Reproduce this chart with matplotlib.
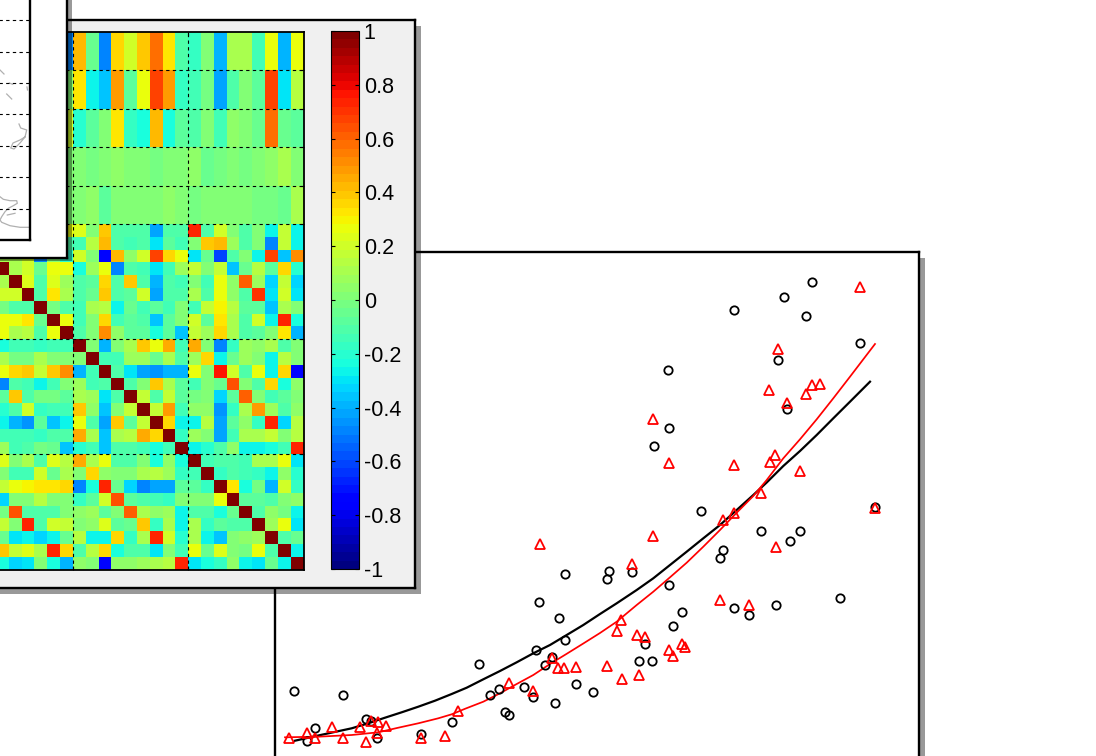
import numpy as np
import matplotlib
matplotlib.use("Agg")
import matplotlib.pyplot as plt
from matplotlib.patches import Rectangle
from matplotlib.cm import ScalarMappable
from matplotlib.colors import Normalize

plt.rcParams['font.family'] = ['Liberation Sans', 'DejaVu Sans']

W, H = 1096, 756

# ---- correlation matrix: visible 24 columns ----
grouped_rows = [
    [0, 0, 0, 0, 0, -.47, .42, -.05, -.48, .36, .2, .38, .58, .34, -.1, -.17, .02, -.38, .12, .1, -.13, .27, -.38, .27],
    [0, 0, 0, 0, 0, .0, .33, -.27, -.36, .47, -.09, .27, .68, .47, -.17, -.14, -.02, -.42, -.12, .03, -.09, .68, -.3, .14],
    [0, 0, 0, 0, 0, .2, -.2, -.08, .02, .33, -.18, -.22, .42, -.25, -.08, -.12, 0, -.13, .06, .02, -.06, .58, -.04, -.09],
    [0, 0, 0, 0, 0, .03, .02, -.01, .01, .04, .02, .02, -.01, .0, .02, .05, -.04, -.01, .01, -.01, .02, .04, .11, .01],
    [0, 0, 0, 0, 0, .0, .03, .05, -.07, .02, .02, .02, .02, .05, .03, -.03, .01, .01, .01, .01, -.01, -.03, -.04, .1],
]
single_rows = [
    [0, 0, 0, 0, 0, .28, .22, 0, .38, -.12, -.11, -.1, -.42, -.12, -.1, .72, -.12, .2, .03, -.12, .02, -.26, .17, -.27],
    [0, 0, 0, 0, 0, -.1, -.13, .13, .42, -.1, -.14, -.11, -.3, -.09, -.13, .01, .38, .42, .09, -.1, 0, -.47, .18, -.26],
    [.1, .1, .2, -.5, 0, -.2, .2, 0, -.72, .42, .04, .19, .67, .36, .28, -.29, -.05, -.62, -.1, .01, -.26, .68, -.35, .5],
    [1, .1, .2, -.06, .27, .28, -.24, .09, .27, -.5, -.1, -.14, -.29, -.13, .07, .16, .02, .16, -.36, -.04, .13, -.08, .35, -.2],
    [.1, 1, .22, -.11, .22, .08, -.1, -.08, .35, -.1, .38, -.11, -.4, -.12, -.13, .02, -.13, .27, .04, .62, .08, -.32, .18, -.33],
    [.2, .2, 1, -.12, .33, .1, -.11, -.05, .4, -.12, -.09, .2, -.43, -.12, -.11, .12, -.12, .28, .04, -.1, .7, -.3, .2, -.29],
    [-.02, -.11, -.12, 1, -.02, -.12, -.14, .1, .15, -.27, -.06, -.14, -.09, -.15, .02, -.13, .18, .3, .14, -.09, -.08, -.36, .1, .03],
    [.28, .25, .33, -.05, 1, .25, -.13, .03, .37, -.14, -.08, -.1, -.36, -.08, 0, .2, -.08, .32, .12, -.11, .2, -.28, .73, -.24],
    [.28, .1, .13, -.12, .25, 1, -.12, .02, .52, .04, -.08, -.08, -.24, -.08, -.37, .16, .08, .37, .1, -.1, -.08, .02, .33, -.4],
    [-.25, -.15, -.15, -.18, -.15, -.13, 1, .02, -.38, .03, .1, .38, .27, .45, -.15, .45, .02, -.5, -.17, .08, .06, .12, -.12, .03],
    [.1, -.02, -.02, .1, .01, .03, .02, 1, -.14, -.14, .07, .08, -.05, .1, -.11, .09, .35, -.27, -.05, .07, .03, -.28, .14, .01],
    [.27, .36, .4, .16, .4, .53, -.4, -.14, 1, -.11, -.3, -.42, -.45, -.4, -.38, .25, .02, .75, .2, -.11, .25, -.27, .35, -.72],
    [-.47, -.1, -.13, -.27, -.13, .01, .08, -.14, -.11, 1, -.11, .03, .4, .12, -.08, -.14, .02, -.06, .63, .02, -.12, .35, -.22, .06],
    [-.08, .4, -.11, -.01, -.01, -.08, .1, .07, -.3, -.1, 1, .18, -.11, .17, -.09, -.01, .02, -.32, -.09, .62, .03, -.14, -.09, .03],
    [-.2, -.1, .2, -.17, -.14, -.13, .38, .05, -.36, .03, .18, 1, .17, .47, -.14, .05, .04, -.44, -.17, .12, .47, .07, -.11, .05],
    [-.27, -.38, -.45, -.08, -.36, -.26, .25, -.1, -.42, .38, -.09, .18, 1, .37, -.27, -.26, .13, -.43, -.08, .06, -.16, .73, -.32, .14],
    [-.15, -.15, -.15, -.18, -.11, -.1, .45, .1, -.36, .1, .15, .45, .37, 1, -.16, .07, .03, -.42, -.13, .1, .12, .18, .03, .15],
    [.09, -.13, -.11, -.01, -.05, -.37, -.2, -.13, -.36, -.1, -.1, -.13, -.25, -.13, 1, -.26, -.2, -.1, .05, -.26, -.27, -.25, -.14, .72],
    [.22, .02, .12, -.11, .22, .15, .45, .1, .25, -.12, -.1, .03, -.22, .06, -.25, 1, -.15, -.1, -.1, -.13, .1, .1, .28, -.3],
    [.02, -.14, -.13, .2, -.06, .1, .03, .37, .05, .03, 0, .12, .15, .08, -.17, -.15, 1, -.17, -.1, -.15, -.17, -.27, .05, -.2],
    [.17, .28, .3, .33, .33, .36, -.5, -.25, .72, -.06, -.33, -.48, -.43, -.42, -.08, -.09, -.16, 1, .32, -.25, -.02, -.38, .2, -.17],
    [-.32, .03, .03, .14, .03, .03, -.18, -.08, .2, .64, -.08, -.12, -.13, -.16, .03, .02, .03, .28, 1, -.09, -.08, -.1, 0, .04],
    [-.02, .63, -.1, -.1, -.11, 0, .06, .07, -.09, .02, .62, .12, .04, .09, -.26, -.1, -.12, -.25, -.05, 1, -.11, .05, -.02, -.27],
    [.17, .02, .72, -.1, .2, .18, .03, .06, .23, -.09, -.05, .4, -.18, .12, -.26, .1, -.18, -.09, -.1, -.11, 1, .08, .27, -.3],
    [-.05, -.3, -.28, -.33, -.26, -.05, .13, -.26, -.26, .35, -.16, .1, .72, .2, -.19, .12, -.28, -.37, .02, .06, .07, 1, -.12, -.06],
    [.4, .17, .22, .1, .72, .35, -.1, .13, .37, -.22, -.1, -.11, -.3, 0, -.14, .27, -.06, .23, .03, -.02, .25, -.12, 1, -.26],
    [-.24, -.32, -.3, .03, -.25, -.4, .06, .01, -.72, .05, .04, .08, .11, .14, .72, -.3, -.23, -.17, .05, -.27, -.3, -.05, -.28, 1],
]
colorbar_ticks = [-1, -.8, -.6, -.4, -.2, 0, .2, .4, .6, .8, 1]
colorbar_labels = ['-1', '-0.8', '-0.6', '-0.4', '-0.2', '0', '0.2', '0.4', '0.6', '0.8', '1']

# ---- scatter: read in picture pixels ----
circle_x = [294, 343, 478.7, 564.7, 539.3, 559.3, 564.7, 536, 551.7, 545, 575.7, 592.7, 524.3, 499.3, 490, 533.3,
            554.7, 505.3, 509.3, 451.7, 366, 371, 315, 306.7, 377.3, 421.3, 812, 783.7, 733.7, 805.7, 859.7, 778.3,
            667.7, 787, 668.7, 653.7, 701.3, 874.7, 761, 800, 790, 723, 719.7, 609, 606.7, 631.7, 668.7, 840.3, 776,
            733.7, 749, 681.7, 673, 644.7, 639.3, 652.3]
circle_y = [690.7, 695, 664.3, 574.3, 601.7, 617.7, 640, 650, 656.7, 665.3, 684, 691.7, 687.3, 689.3, 695.3, 696.7,
            703.3, 712, 714.7, 721.7, 718.7, 721, 727.7, 741, 738.3, 734.3, 282, 297.3, 310.3, 315.7, 342.7, 360.3,
            370, 409.3, 427.7, 446, 511.3, 506.7, 531, 531, 540.7, 550.3, 558, 570.7, 578.7, 572, 585, 598.3, 605,
            608, 614.7, 612.3, 626.3, 643.7, 661.3, 661.3]
triangle_x = [859.7, 778.3, 768.7, 812, 820, 805.7, 787, 653.3, 668.7, 733.7, 775.3, 769.7, 800, 761, 723, 734.3, 875,
              652.7, 776, 631.7, 719.7, 749, 621.3, 616.7, 637, 645, 682, 685, 668.7, 673, 606.7, 639.3, 622,
              539.7, 551.7, 558.3, 564, 575.7, 509, 533.3, 458.3, 332, 371, 377.7, 385.7, 360, 307.3, 289, 315, 343.3,
              376.7, 366, 421.3, 445.3]
triangle_y = [286.7, 349.3, 390, 385.3, 384, 394, 403, 419, 463.3, 464.7, 455, 461.7, 470.7, 493.3, 520.3, 513.3, 508.3,
              536.3, 547, 564.3, 600.3, 605, 619.7, 630.7, 635.3, 636.7, 644, 646.7, 650.3, 656, 665.7, 675, 678.7,
              544, 657.7, 668.3, 668.3, 666.7, 683.3, 691, 710.7, 726.7, 721, 722.3, 725.7, 727.3, 733.3, 738.3, 738.3, 738.3,
              732.7, 742.3, 738.3, 735.7]
black_x = [295, 318.3, 351.7, 368.3, 385, 401.7, 418.3, 435, 451.7, 466.7, 483.3, 500, 516.7, 533.3, 550, 566.7, 583.3,
           600, 616.7, 636.7, 653.3, 670, 686.7, 703.3, 720, 736.7, 753.3, 766.7, 783.3, 800, 816.7, 833.3, 850, 870]
black_y = [740.7, 735.5, 728.3, 723.3, 717.7, 712.3, 706.7, 700.7, 694, 687.7, 679.3, 671, 662.3, 653.3, 645, 635, 625,
           614, 603.3, 590, 578.3, 565, 551.7, 538.3, 525, 510, 495, 482.5, 466, 451, 435, 418.3, 401.7, 381.7]
red_x = [285, 318.3, 351.7, 378.3, 398.3, 418.3, 438.3, 451.7, 465, 483.3, 500, 516.7, 533.3, 550, 566.7, 583.3, 600,
         616.7, 636.7, 653.3, 670, 686.7, 703.3, 720, 736.7, 753.3, 766.7, 783.3, 800, 816.7, 833.3, 850, 875]
red_y = [737.3, 736.7, 735, 732.3, 727.7, 723.3, 718.3, 714.3, 708.8, 701.7, 693.3, 684, 675, 664, 653.8, 643.5, 633,
         621.7, 605, 591.7, 577.3, 562.7, 546.7, 530, 512.7, 496, 480, 458.3, 439.3, 419.3, 398.3, 376.7, 344]

# ---- map coast fragments, in the map's own axis units ----
coast_a_x = [0, 3.3, 10, 16.7, 17.3, 13.3, 8.3, 5, 1.7, 0, 1.7, 10, 20, 29.3]
coast_a_y = [196.7, 199.3, 200.7, 200.7, 203.3, 205.7, 208.3, 211.7, 216.7, 220, 222.3, 225.7, 227.3, 227.3]
coast_b_x = [7.3, 15]
coast_b_y = [215, 213.3]
coast_c_x = [19, 20.7, 26.7, 25, 20, 13, 10.7, 14, 20, 25]
coast_c_y = [124, 128, 130, 137, 140, 143, 148, 149, 143, 137]
coast_d_x = [6.7, 11.7]
coast_d_y = [94, 99]
coast_e_x = [9.3, 12.7]
coast_e_y = [83, 84.3]
coast_f_x = [0, 4]
coast_f_y = [70, 74]
coast_g_x = [27, 27.5]
coast_g_y = [87, 90]
map_lat_lines = [20, 51.7, 83.3, 114.3, 146, 177, 209]

fig = plt.figure(figsize=(W / 100, H / 100), dpi=100, facecolor='white')


def pix_rect(x0, y0, x1, y1):
    return [x0 / W, 1 - y1 / H, (x1 - x0) / W, (y1 - y0) / H]


def add_shadow(x0, y0, x1, y1, z):
    fig.add_artist(Rectangle((x0 / W, 1 - y1 / H), (x1 - x0) / W, (y1 - y0) / H, transform=fig.transFigure,
                             facecolor='black', alpha=0.4, edgecolor='none', zorder=z))


def add_panel(x0, y0, x1, y1, face, z):
    ax = fig.add_axes(pix_rect(x0, y0, x1, y1), facecolor=face, zorder=z)
    ax.set_xticks([])
    ax.set_yticks([])
    for s in ax.spines.values():
        s.set_linewidth(1.7)
    return ax


# bottom scatter panel
add_shadow(280, 258, 925, 820, 1)
ax_s = add_panel(275, 252, 919, 820, 'white', 2)
ax_s.set_xlim(275, 919)
ax_s.set_ylim(820, 252)
ax_s.plot(black_x, black_y, color='black', lw=1.6, zorder=3)
ax_s.plot(red_x, red_y, color='red', lw=1.25, zorder=4)
ax_s.plot(circle_x, circle_y, ls='none', marker='o', ms=6.0, mfc='none', mec='black', mew=1.3, zorder=5)
ax_s.plot(triangle_x, triangle_y, ls='none', marker='^', ms=7.5, mfc='none', mec='red', mew=1.3, zorder=6)

# correlation panel
add_shadow(-10, 26, 421, 594, 3)
add_panel(-10, 20, 415, 588, '#f0f0f0', 4)

ax_h = fig.add_axes(pix_rect(-4, 32, 303.5, 569.6), zorder=5)
matrix = np.array(grouped_rows + single_rows, dtype=float)
x_edges = np.arange(matrix.shape[1] + 1)
y_edges = np.concatenate([np.arange(0, 15, 3), np.arange(15, 43)])
cmap = plt.get_cmap('jet', 64)
norm = Normalize(-1, 1)
ax_h.pcolormesh(x_edges, y_edges, matrix, cmap=cmap, norm=norm, antialiased=False)
ax_h.set_xlim(0, 24)
ax_h.set_ylim(42, 0)
ax_h.set_xticks([6, 15])
ax_h.set_yticks([3, 6, 9, 12, 15, 24, 33])
ax_h.set_xticklabels([])
ax_h.set_yticklabels([])
ax_h.tick_params(direction='in', length=3, width=0.8, top=True, right=True, bottom=True, left=True)
ax_h.grid(True, color='black', lw=0.8, dashes=(3, 3))
ax_h.set_axisbelow(False)
for s in ax_h.spines.values():
    s.set_linewidth(1.3)

# colorbar
ax_c = fig.add_axes(pix_rect(331, 31, 359, 569), zorder=5)
cb = fig.colorbar(ScalarMappable(norm=norm, cmap=cmap), cax=ax_c)
cb.set_ticks(colorbar_ticks)
cb.set_ticklabels(colorbar_labels)
cb.outline.set_linewidth(0.8)
ax_c.yaxis.set_ticks_position('both')
ax_c.tick_params(axis='y', direction='in', length=3, width=0.8, labelsize=15.5, pad=3.5,
                 labelright=True, labelleft=False, color='black')

# map inset
add_shadow(-10, -10, 72, 261, 6)
add_panel(-10, -10, 67, 258, 'white', 7)
ax_m = add_panel(-10, -10, 29.5, 240, 'white', 8)
ax_m.set_xlim(-10, 29.5)
ax_m.set_ylim(240, -10)
for cx, cy in [(coast_a_x, coast_a_y), (coast_b_x, coast_b_y), (coast_c_x, coast_c_y), (coast_d_x, coast_d_y),
               (coast_e_x, coast_e_y), (coast_f_x, coast_f_y), (coast_g_x, coast_g_y)]:
    ax_m.plot(cx, cy, color='#b0b0b0', lw=0.9)
for y in map_lat_lines:
    ax_m.axhline(y, color='black', lw=0.8, dashes=(3, 3))

fig.savefig('out.png', dpi=100)
